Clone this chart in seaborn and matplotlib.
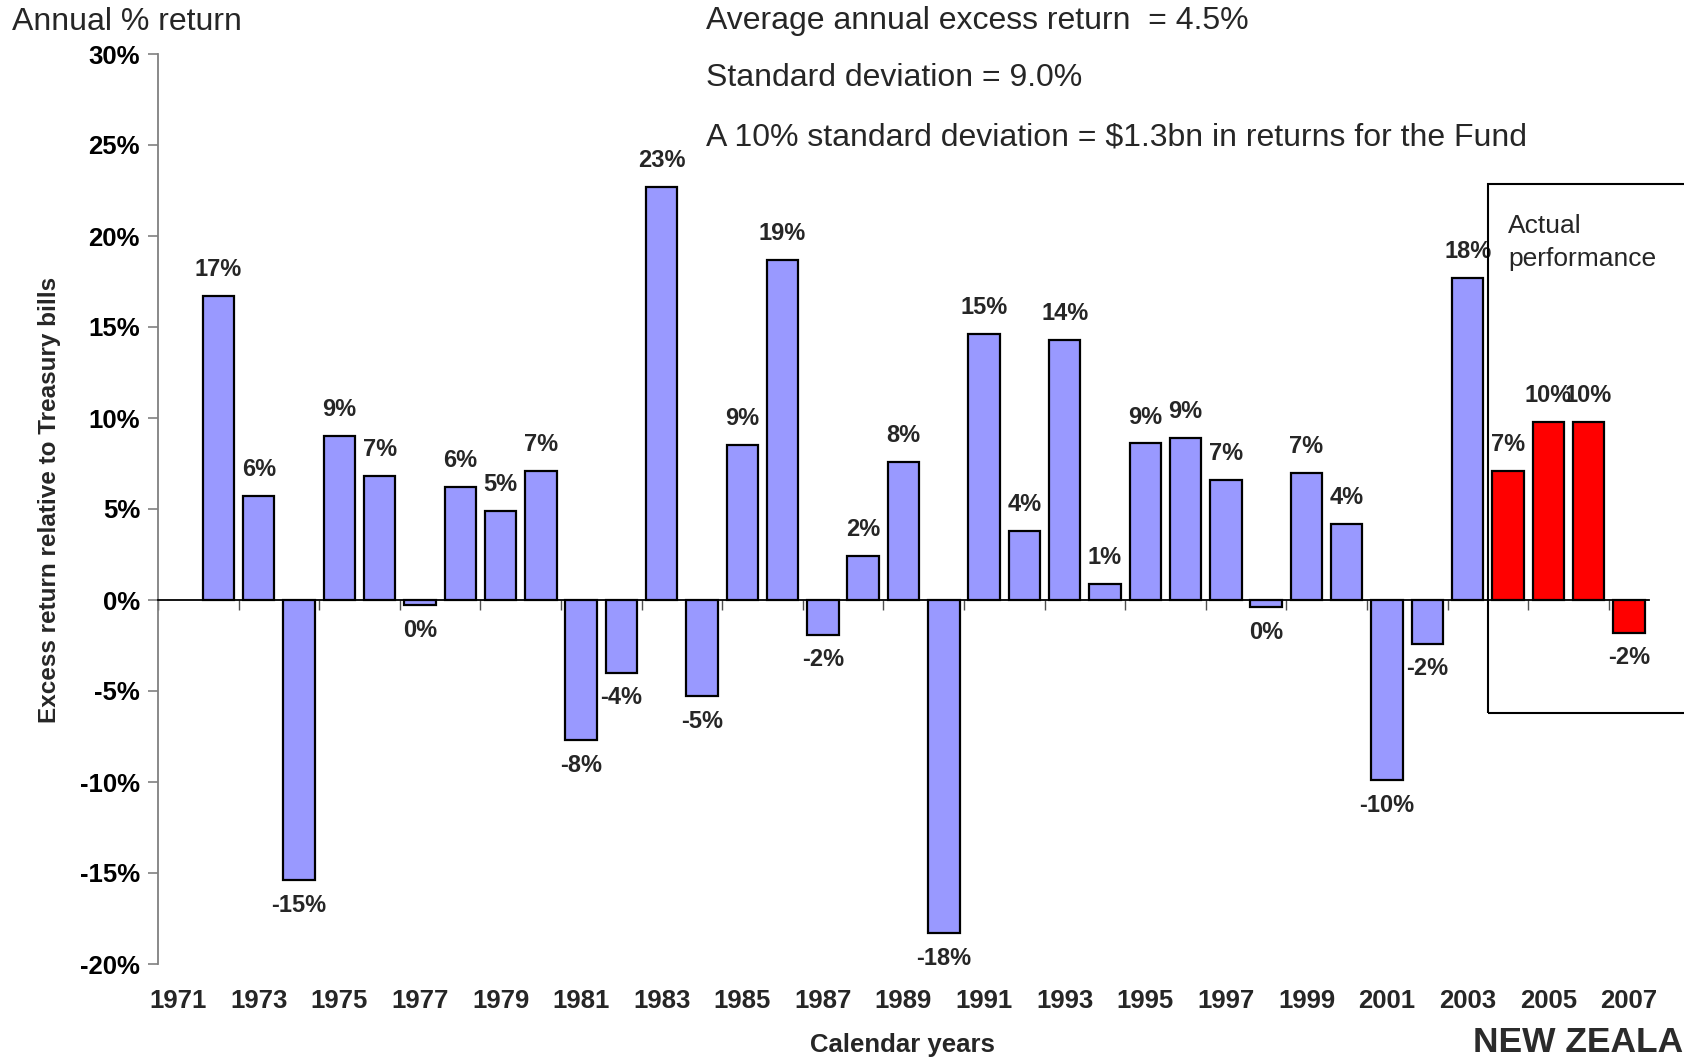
import numpy as np
import pandas as pd
import matplotlib
matplotlib.use("Agg")
import matplotlib.pyplot as plt
from matplotlib.patches import Rectangle
import seaborn as sns

# ---------------- data ----------------
years = [str(y) for y in range(1971, 2008)]
values = [np.nan, 16.7, 5.7, -15.4, 9.0, 6.8, -0.3, 6.2, 4.9, 7.1,
          -7.7, -4.0, 22.7, -5.3, 8.5, 18.7, -1.9, 2.4, 7.6, -18.3,
          14.6, 3.8, 14.3, 0.9, 8.6, 8.9, 6.6, -0.4, 7.0, 4.2,
          -9.9, -2.4, 17.7, 7.1, 9.8, 9.8, -1.8]
value_labels = ['', '17%', '6%', '-15%', '9%', '7%', '0%', '6%', '5%', '7%',
                '-8%', '-4%', '23%', '-5%', '9%', '19%', '-2%', '2%', '8%', '-18%',
                '15%', '4%', '14%', '1%', '9%', '9%', '7%', '0%', '7%', '4%',
                '-10%', '-2%', '18%', '7%', '10%', '10%', '-2%']
groups = ['Historical'] * 33 + ['Actual'] * 4
y_ticks = [-20, -15, -10, -5, 0, 5, 10, 15, 20, 25, 30]
y_tick_labels = [f"{t}%" for t in y_ticks]
year_tick_labels = years[::2]

notes = ["Average annual excess return  = 4.5%",
         "Standard deviation = 9.0%",
         "A 10% standard deviation = $1.3bn in returns for the Fund"]

df = pd.DataFrame({"year": years, "value": values, "group": groups})

# ---------------- style ----------------
sns.set_theme(style="white")
plt.rcParams["font.family"] = ["Liberation Sans", "DejaVu Sans"]

W, H = 1684, 1057
fig = plt.figure(figsize=(W / 100, H / 100), dpi=100)
ax = fig.add_axes([158 / W, 1 - 964 / H, (1649 - 158) / W, (964 - 54) / H])

sns.barplot(data=df, x="year", y="value", hue="group", order=years,
            hue_order=["Historical", "Actual"],
            palette={"Historical": "#9999FF", "Actual": "#FF0000"},
            dodge=False, width=0.78, saturation=1, edgecolor="black",
            linewidth=1.6, legend=False, ax=ax)

ax.set_xlim(-0.5, len(years) - 0.5)
ax.set_ylim(-20, 30)

# y axis
ax.set_yticks(y_ticks)
ax.set_yticklabels(y_tick_labels, fontsize=18.5, fontweight="bold", color="black")
ax.tick_params(axis="y", direction="out", length=7, width=1.2, color="#808080",
               pad=6, left=True)

# spines
for s in ["top", "right"]:
    ax.spines[s].set_visible(False)
ax.spines["left"].set_color("#808080")
ax.spines["left"].set_linewidth(1.3)
ax.spines["bottom"].set_position(("data", 0))
ax.spines["bottom"].set_color("black")
ax.spines["bottom"].set_linewidth(1.3)

# x ticks on the zero line (category boundaries every 2 years)
ax.set_xticks(np.arange(-0.5, len(years) - 0.5, 2))
ax.set_xticklabels([])
ax.tick_params(axis="x", direction="out", length=7, width=1.0, color="#505050",
               bottom=True)
ax.set_xlabel("")
ax.set_ylabel("")

# year labels below the plot
xt = ax.get_xaxis_transform()
for i, lab in zip(range(0, len(years), 2), year_tick_labels):
    ax.text(i, -0.0407, lab, transform=xt, ha="center", va="center",
            fontsize=18.5, fontweight="bold", clip_on=False)

# value labels
for i, (v, lab) in enumerate(zip(values, value_labels)):
    if np.isnan(v):
        continue
    ax.annotate(lab, (i, v), xytext=(0, 19 if v >= 0 else -18),
                textcoords="offset points", ha="center", va="center",
                fontsize=17, fontweight="bold", annotation_clip=False)

# texts
fig.text(12 / W, 1 - 22 / H, "Annual % return", fontsize=23, ha="left", va="center")
for yy, t in zip([21, 78, 137], notes):
    fig.text(706 / W, 1 - yy / H, t, fontsize=23, ha="left", va="center")

fig.text(50 / W, 1 - 500 / H, "Excess return relative to Treasury bills",
         rotation=90, ha="center", va="center", fontsize=17.5, fontweight="bold")
fig.text(902 / W, 1 - 1045 / H, "Calendar years", ha="center", va="center",
         fontsize=18.5, fontweight="bold")

# Actual performance box
fig.patches.append(Rectangle((1488 / W, 1 - 713 / H), 300 / W, (713 - 184) / H,
                             transform=fig.transFigure, fill=False,
                             edgecolor="black", linewidth=1.5))
fig.text(1508 / W, 1 - 226 / H, "Actual", fontsize=19, ha="left", va="center")
fig.text(1508 / W, 1 - 259 / H, "performance", fontsize=19, ha="left", va="center")

# logo text (cut by the right edge in the reference)
fig.text(1473 / W, 1 - 1042 / H, "NEW ZEALA", fontsize=25.5, ha="left",
         va="center", color="#2b2b2b", fontweight="bold")

fig.savefig("out.png", dpi=100)
